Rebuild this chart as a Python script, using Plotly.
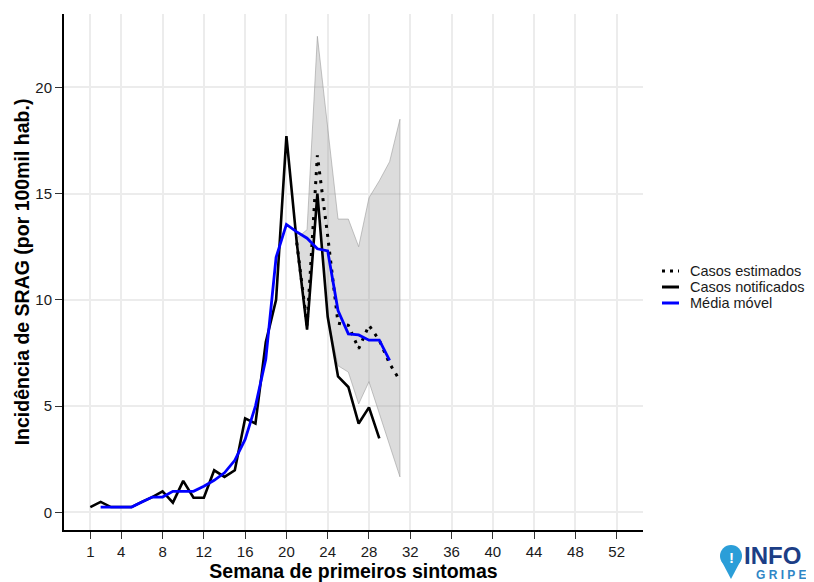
import plotly.graph_objects as go

# ---------------- data ----------------
notif_weeks = list(range(1, 30))
notif_vals = [0.25, 0.49, 0.25, 0.25, 0.25, 0.49, 0.72, 0.99, 0.46, 1.48,
              0.69, 0.69, 1.98, 1.67, 1.98, 4.42, 4.18, 8.0, 10.0, 17.7,
              12.7, 8.6, 15.0, 9.2, 6.4, 5.9, 4.18, 4.94, 3.48]

mm_weeks = list(range(2, 31))
mm_vals = [0.25, 0.25, 0.25, 0.25, 0.49, 0.72, 0.72, 0.99, 0.99, 0.99,
           1.23, 1.51, 1.86, 2.45, 3.43, 5.0, 7.2, 12.0, 13.55, 13.2,
           12.9, 12.4, 12.3, 9.5, 8.4, 8.35, 8.1, 8.1, 7.15]

est_weeks = list(range(21, 32))
est_vals = [12.7, 8.8, 16.8, 13.0, 8.9, 8.8, 7.7, 8.8, 8.1, 7.0, 6.2]
ci_lower = [12.7, 8.6, 15.0, 9.2, 6.9, 6.6, 5.1, 6.15, 4.65, 3.15, 1.67]
ci_upper = [12.9, 13.3, 22.4, 18.0, 13.8, 13.8, 12.5, 14.8, 15.6, 16.5, 18.5]

x_ticks = [1, 4, 8, 12, 16, 20, 24, 28, 32, 36, 40, 44, 48, 52]
y_ticks = [0, 5, 10, 15, 20]

legend_names = ["Casos estimados", "Casos notificados", "Média móvel"]
x_title = "Semana de primeiros sintomas"
y_title = "Incidência de SRAG (por 100mil hab.)"

# ---------------- layout helpers ----------------
OFF = 8                      # page body margin of the html page
W, H = 814 - OFF, 582 - OFF
ML, MT = 64 - OFF, 14 - OFF
MR = W - (643 - OFF)
MB = H - (530 - OFF)
PW, PH = W - ML - MR, H - MT - MB


def px_x(px):
    """reference-screen pixel x -> paper coordinate"""
    return (px - OFF - ML) / PW


def px_y(py):
    """reference-screen pixel y -> paper coordinate"""
    return (H - MB - (py - OFF)) / PH


FONT = "Liberation Sans, Arial, Helvetica, sans-serif"
TXT = "#1a1a1a"

fig = go.Figure()

# confidence ribbon
fig.add_trace(go.Scatter(
    x=est_weeks + est_weeks[::-1],
    y=ci_upper + ci_lower[::-1],
    fill="toself",
    fillcolor="rgba(150,150,150,0.33)",
    line=dict(color="rgba(150,150,150,0.55)", width=1),
    mode="lines",
    hoverinfo="skip",
    showlegend=False,
))

fig.add_trace(go.Scatter(
    x=notif_weeks, y=notif_vals, mode="lines",
    name=legend_names[1], showlegend=False,
    line=dict(color="black", width=2.6),
))

fig.add_trace(go.Scatter(
    x=est_weeks, y=est_vals, mode="lines",
    name=legend_names[0], showlegend=False,
    line=dict(color="black", width=3, dash="3px,6px"),
))

fig.add_trace(go.Scatter(
    x=mm_weeks, y=mm_vals, mode="lines",
    name=legend_names[2], showlegend=False,
    line=dict(color="#0000ff", width=2.8),
))

axis_common = dict(
    showline=True, linecolor="black", linewidth=2,
    ticks="outside", ticklen=7, tickwidth=1.3, tickcolor="#333333",
    showgrid=True, gridcolor="#ececec", gridwidth=1.6,
    zeroline=False,
    tickfont=dict(family=FONT, size=15, color=TXT),
)

fig.update_xaxes(
    range=[-1.55, 54.55], tickmode="array", tickvals=x_ticks,
    ticktext=[str(v) for v in x_ticks],
    title=dict(text="<b>%s</b>" % x_title, standoff=16,
               font=dict(family=FONT, size=19.5, color="black")),
    **axis_common,
)
fig.update_yaxes(
    range=[-0.83, 23.45], tickmode="array", tickvals=y_ticks,
    ticktext=[str(v) for v in y_ticks],
    title=dict(text="<b>%s</b>" % y_title, standoff=0,
               font=dict(family=FONT, size=19.5, color="black")),
    **axis_common,
)

shapes = []
annotations = []

# legend (drawn as layout decoration, fixed spacing like the reference)
leg_y = [271, 287, 303]
leg_styles = [
    dict(color="black", width=3, dash="3px,5px"),
    dict(color="black", width=3),
    dict(color="#0000ff", width=3),
]
for name, yy, st in zip(legend_names, leg_y, leg_styles):
    shapes.append(dict(type="line", xref="paper", yref="paper",
                       x0=px_x(662), x1=px_x(679), y0=px_y(yy), y1=px_y(yy),
                       line=st))
    annotations.append(dict(text=name, xref="paper", yref="paper",
                            x=px_x(688), y=px_y(yy), xanchor="left",
                            yanchor="middle", showarrow=False,
                            font=dict(family=FONT, size=14.5, color=TXT)))

# logo
shapes += [
    dict(type="circle", xref="paper", yref="paper",
         x0=px_x(720), x1=px_x(742), y0=px_y(567), y1=px_y(545),
         fillcolor="#2b9ed8", line=dict(width=0)),
    dict(type="path", xref="paper", yref="paper",
         path="M %f,%f L %f,%f L %f,%f Z" % (
             px_x(721.5), px_y(561), px_x(740.5), px_y(561),
             px_x(731), px_y(579)),
         fillcolor="#2b9ed8", line=dict(width=0)),
]
annotations += [
    dict(text="<b>!</b>", xref="paper", yref="paper", x=px_x(731), y=px_y(557),
         xanchor="center", yanchor="middle", showarrow=False,
         font=dict(family=FONT, size=15, color="white")),
    dict(text="<b>INFO</b>", xref="paper", yref="paper", x=px_x(743), y=px_y(555),
         xanchor="left", yanchor="middle", showarrow=False, borderpad=0,
         font=dict(family=FONT, size=24, color="#1c3e86")),
    dict(text="<b>G R I P E</b>", xref="paper", yref="paper", x=px_x(755), y=px_y(574.5),
         xanchor="left", yanchor="middle", showarrow=False, borderpad=0,
         font=dict(family=FONT, size=12, color="#2f86c6")),
]

fig.update_layout(
    width=W, height=H,
    margin=dict(l=ML, r=MR, t=MT, b=MB, autoexpand=False),
    paper_bgcolor="white", plot_bgcolor="white",
    font=dict(family=FONT),
    showlegend=False,
    shapes=shapes,
    annotations=annotations,
)

fig.write_html("out.html")
